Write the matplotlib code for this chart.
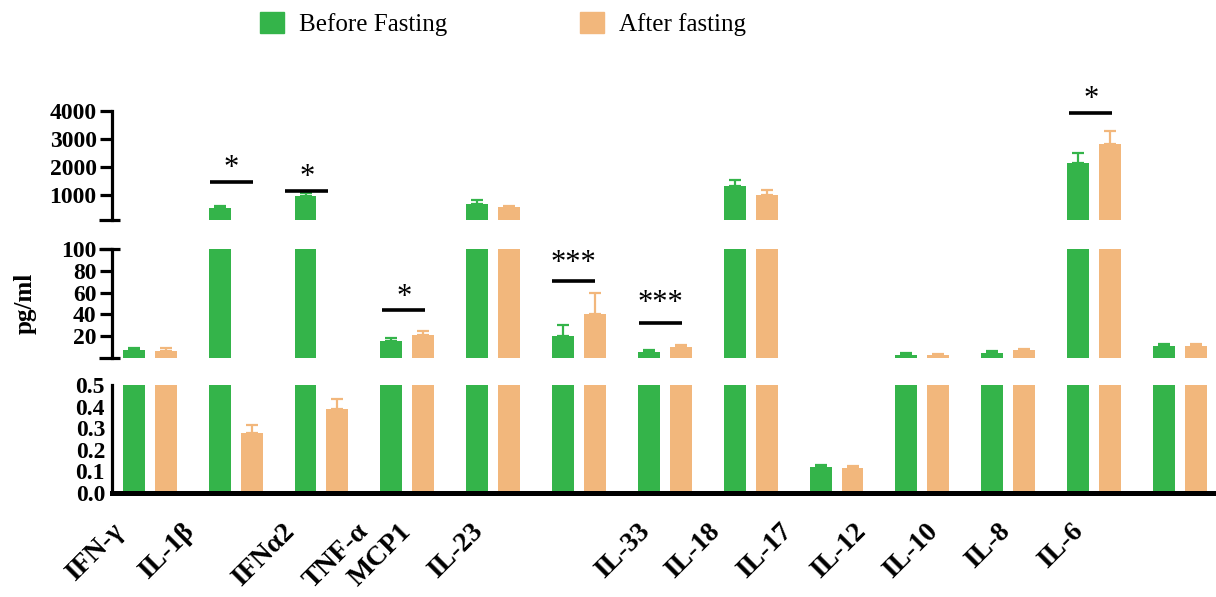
import numpy as np
import matplotlib.pyplot as plt
from matplotlib.patches import Patch

# 数据
cytokines = ['IFN-γ', 'IL-1β', 'IFNα2', 'TNF-α', 'MCP1', 'IL-23', 'IL-33',
             'IL-18', 'IL-17', 'IL-12', 'IL-10', 'IL-8', 'IL-6']
before_mean = [7.5, 530, 960, 16, 660, 20, 5.2, 1320, 0.12, 2.8, 4.9, 2130, 11]
before_err = [2.0, 80, 100, 2.8, 150, 10, 2.1, 215, 0.011, 1.5, 1.3, 380, 2.1]
after_mean = [6.8, 0.28, 0.39, 21, 550, 40, 9.8, 1000, 0.114, 2.4, 7.0, 2820, 11.3]
after_err = [2.1, 0.033, 0.045, 3.9, 60, 19.5, 1.8, 170, 0.012, 1.5, 1.5, 465, 1.8]

# 显著性标注
sig_idx = [1, 2, 3, 5, 6, 11]
sig_text = ['*', '*', '*', '***', '***', '*']
sig_line_y = [1460, 1150, 43.7, 70.4, 32.4, 3930]
sig_star_y = [1930, 1620, 55.5, 87, 50, 4400]

# 布局参数
sig_dx = [-0.05, -0.17, -0.04, -0.06, -0.05, -0.04]
label_dx = [-0.45, -0.63, -0.46, -0.6, -1.1, -1.26, -0.32, -0.51, -0.67, -0.8, -0.96, -1.12, -1.27]

green = '#34B44A'
orange = '#F2B77C'
plt.rcParams['font.family'] = ['Liberation Serif', 'DejaVu Serif']

fig = plt.figure(figsize=(12.16, 5.97), dpi=100)
H = 597
left = 112 / 1216
width = 1 - left
ax_top = fig.add_axes([left, 1 - 220 / H, width, 109 / H])
ax_mid = fig.add_axes([left, 1 - 358 / H, width, 109 / H])
ax_bot = fig.add_axes([left, 1 - 493 / H, width, 108 / H])

x = np.arange(len(cytokines))
bm = np.array(before_mean)
be = np.array(before_err)
am = np.array(after_mean)
ae = np.array(after_err)
bw = 0.255
off = 0.186
# 每段只画高于该段下限的柱子
for ax, low in ((ax_top, 100), (ax_mid, 0.5), (ax_bot, -1)):
    mb = bm > low
    ma = am > low
    ax.bar(x[mb] - off, bm[mb], width=bw, color=green, zorder=2)
    ax.bar(x[ma] + off, am[ma], width=bw, color=orange, zorder=2)
    ax.errorbar(x[mb] - off, bm[mb], yerr=[np.zeros(mb.sum()), be[mb]], fmt='none',
                ecolor=green, elinewidth=1.6, capsize=4.5, capthick=1.6, zorder=3)
    ax.errorbar(x[ma] + off, am[ma], yerr=[np.zeros(ma.sum()), ae[ma]], fmt='none',
                ecolor=orange, elinewidth=1.6, capsize=4.5, capthick=1.6, zorder=3)
    ax.set_xlim(-0.44, 12.42)
    for s in ['top', 'right', 'bottom']:
        ax.spines[s].set_visible(False)
    ax.spines['left'].set_linewidth(2.3)
    ax.set_xticks([])
    ax.tick_params(axis='y', length=9, width=2.3, labelsize=17, pad=2)
    ax.patch.set_alpha(0)

ax_top.set_ylim(100, 4000)
ax_top.set_yticks([1000, 2000, 3000, 4000])
ax_mid.set_ylim(0, 100)
ax_mid.set_yticks([20, 40, 60, 80, 100])
ax_bot.set_ylim(0, 0.5)
ax_bot.set_yticks([0.0, 0.1, 0.2, 0.3, 0.4, 0.5])
ax_bot.set_yticklabels(['0.0', '0.1', '0.2', '0.3', '0.4', '0.5'])
ax_bot.tick_params(axis='y', length=0, pad=5)
ax_bot.spines['bottom'].set_visible(True)
ax_bot.spines['bottom'].set_linewidth(3.6)
for ax in (ax_top, ax_mid, ax_bot):
    for lab in ax.get_yticklabels():
        lab.set_fontweight('bold')

# 断轴处的短横线
for ax, yy in [(ax_top, 0), (ax_mid, 0), (ax_mid, 1)]:
    ax.plot([-0.012, 0.007], [yy, yy], transform=ax.transAxes, color='black',
            lw=2.3, clip_on=False, solid_capstyle='butt')

# 显著性标注
for i, t, ly, sy, dx in zip(sig_idx, sig_text, sig_line_y, sig_star_y, sig_dx):
    ax = ax_top if ly > 100 else ax_mid
    cx = i + dx
    ax.plot([cx - 0.25, cx + 0.25], [ly, ly], color='black', lw=2.6,
            clip_on=False, solid_capstyle='butt', zorder=4)
    ax.text(cx, sy, t, ha='center', va='center', fontsize=22, clip_on=False)

# x轴标签
for i, (name, dx) in enumerate(zip(cytokines, label_dx)):
    ax_bot.text(i + dx, -0.24, name, transform=ax_bot.get_xaxis_transform(),
                rotation=45, rotation_mode='anchor', ha='right', va='top',
                fontsize=20, fontweight='bold')

fig.text(25 / 1216, 1 - 303 / H, 'pg/ml', rotation=90, ha='center', va='center',
         fontsize=18, fontweight='bold')

handles = [Patch(color=green, label='Before Fasting'), Patch(color=orange, label='After fasting')]
fig.legend(handles=handles, loc='center', bbox_to_anchor=(503 / 1216, 1 - 24 / H), ncol=2,
           frameon=False, fontsize=18, handlelength=0.95, handleheight=0.95,
           handletextpad=0.6, columnspacing=5.3)

fig.savefig('out.png', dpi=100)
